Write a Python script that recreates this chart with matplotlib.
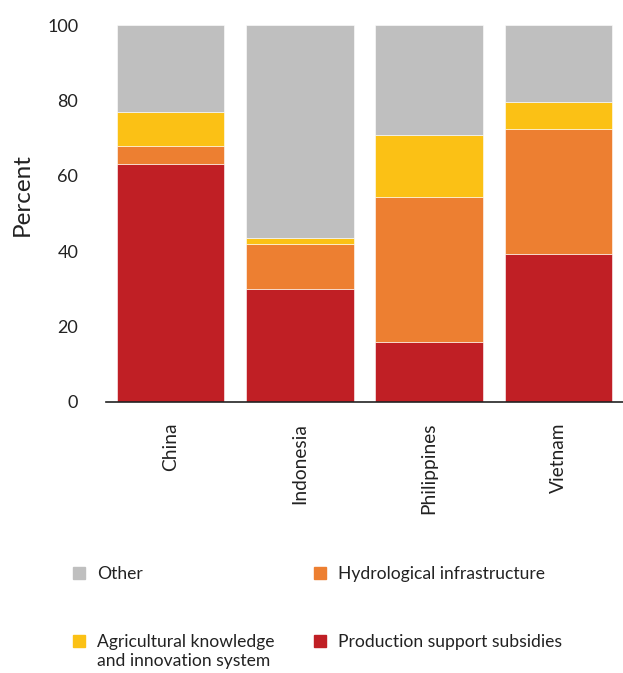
import numpy as np
import matplotlib.pyplot as plt
from matplotlib.patches import Rectangle

# Share of support by category, percent of total
countries = ["China", "Indonesia", "Philippines", "Vietnam"]
production = [63.1, 30.0, 16.0, 39.2]
hydrological = [4.8, 12.0, 38.5, 33.2]
akis = [9.0, 1.6, 16.3, 7.1]
other = [23.1, 56.4, 29.2, 20.5]

colors = {
    "Production support subsidies": "#C01F25",
    "Hydrological infrastructure": "#ED7F31",
    "Agricultural knowledge\nand innovation system": "#FBC115",
    "Other": "#BFBFBF",
}

plt.rcParams["font.family"] = ["Lato", "DejaVu Sans"]

fig = plt.figure(figsize=(6.23, 6.73), dpi=100)
ax = fig.add_axes([106 / 623, 271 / 673, 1 - 106 / 623, 377 / 673])

x = np.arange(len(countries))
width = 0.83
bottom = np.zeros(len(countries))
for name, vals in zip(colors, [production, hydrological, akis, other]):
    ax.bar(x, vals, width, bottom=bottom, color=colors[name],
           edgecolor="white", linewidth=0.4)
    bottom += np.array(vals)

ax.set_xlim(-0.5, 3.5)
ax.set_ylim(0, 100)
ax.set_yticks([0, 20, 40, 60, 80, 100])
ax.set_xticks(x)
ax.set_xticklabels(countries, rotation=90, fontsize=13.8, color="#222222")
ax.tick_params(axis="y", length=0, labelsize=13, labelcolor="#222222", pad=20)
ax.tick_params(axis="x", length=0, pad=15)
ax.set_ylabel("Percent", fontsize=17.5, color="#222222")
ax.yaxis.set_label_coords(-0.142, 0.55)
for side in ["left", "right", "top"]:
    ax.spines[side].set_visible(False)
ax.spines["bottom"].set_color("#222222")
ax.spines["bottom"].set_linewidth(1.2)

# Legend drawn as two columns of square swatches
legend_items = [
    ("Other", "#BFBFBF", 73, 573),
    ("Agricultural knowledge\nand innovation system", "#FBC115", 73, 641),
    ("Hydrological infrastructure", "#ED7F31", 314, 573),
    ("Production support subsidies", "#C01F25", 314, 641),
]
W, H = 623, 673
for label, col, px, py in legend_items:
    fig.patches.append(Rectangle((px / W, (H - py - 6) / H), 12 / W, 12 / H,
                                 transform=fig.transFigure, color=col))
    fig.text((px + 24) / W, (H - py) / H + 0.011, label, fontsize=12.6,
             color="#222222", va="top", ha="left", linespacing=1.3)

fig.savefig("out.png", dpi=100)
